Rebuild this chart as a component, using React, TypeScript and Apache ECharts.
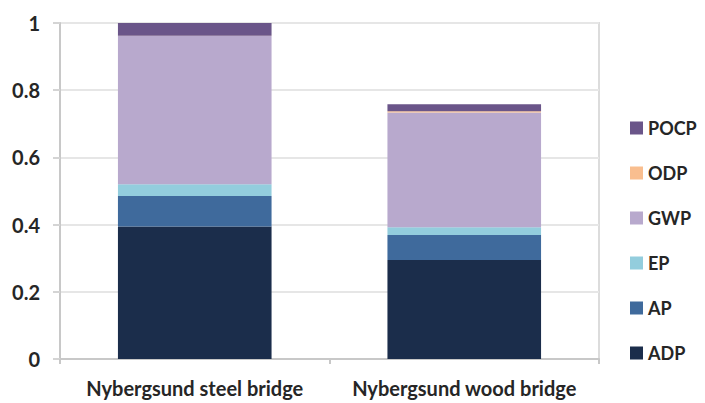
import React, { useEffect, useRef } from "react";
import * as echarts from "echarts";

// Normalised impact category results per bridge
const categories = ["Nybergsund steel bridge", "Nybergsund wood bridge"];
const seriesNames = ["ADP", "AP", "EP", "GWP", "ODP", "POCP"];
const adp = [0.394, 0.295];
const ap = [0.091, 0.074];
const ep = [0.035, 0.023];
const gwp = [0.441, 0.342];
const odp = [0.001, 0.003];
const pocp = [0.038, 0.021];
const yTicks = [0, 0.2, 0.4, 0.6, 0.8, 1];

const seriesValues = [adp, ap, ep, gwp, odp, pocp];
const colors = ["#1b2d4b", "#3f6a9c", "#93cddd", "#b8a9cd", "#f9be8f", "#6a5589"];

export default function App() {
  const ref = useRef<HTMLDivElement>(null);

  useEffect(() => {
    if (!ref.current) return;
    const chart = echarts.init(ref.current, null, { renderer: "svg" });
    const textColor = "#262626";
    chart.setOption({
      animation: false,
      backgroundColor: "#ffffff",
      grid: {
        left: 60,
        right: 106,
        top: 23,
        bottom: 44,
        show: true,
        borderColor: "#dcdcdc",
        borderWidth: 2,
      },
      legend: {
        orient: "vertical",
        left: 625,
        top: 114,
        itemWidth: 13,
        itemHeight: 13,
        itemGap: 27,
        icon: "rect",
        data: [...seriesNames].reverse(),
        textStyle: {
          fontFamily: "Lato",
          fontWeight: "bold",
          fontSize: 18,
          color: textColor,
          lineHeight: 16,
        },
      },
      xAxis: {
        type: "category",
        data: categories,
        axisLine: { lineStyle: { color: "#c8c8c8", width: 2 } },
        axisTick: { show: true, length: 5, lineStyle: { color: "#c8c8c8", width: 2 } },
        axisLabel: {
          interval: 0,
          margin: 19,
          fontFamily: "Lato",
          fontWeight: "bold",
          fontSize: 20,
          color: textColor,
        },
      },
      yAxis: {
        type: "value",
        min: yTicks[0],
        max: yTicks[yTicks.length - 1],
        interval: yTicks[1] - yTicks[0],
        axisLine: { show: true, lineStyle: { color: "#c8c8c8", width: 2 } },
        axisTick: { show: true, length: 7, lineStyle: { color: "#d4d4d4", width: 2 } },
        splitLine: { lineStyle: { color: "#e6e6e6", width: 2 } },
        axisLabel: {
          margin: 20,
          fontFamily: "Lato",
          fontWeight: "bold",
          fontSize: 20,
          color: textColor,
        },
      },
      series: seriesNames.map((name, i) => ({
        name,
        type: "bar",
        stack: "total",
        barWidth: "57%",
        itemStyle: { color: colors[i] },
        data: seriesValues[i],
      })),
    });
    return () => chart.dispose();
  }, []);

  return (
    <div
      ref={ref}
      style={{ position: "fixed", left: 0, top: 0, width: 705, height: 403 }}
    />
  );
}
